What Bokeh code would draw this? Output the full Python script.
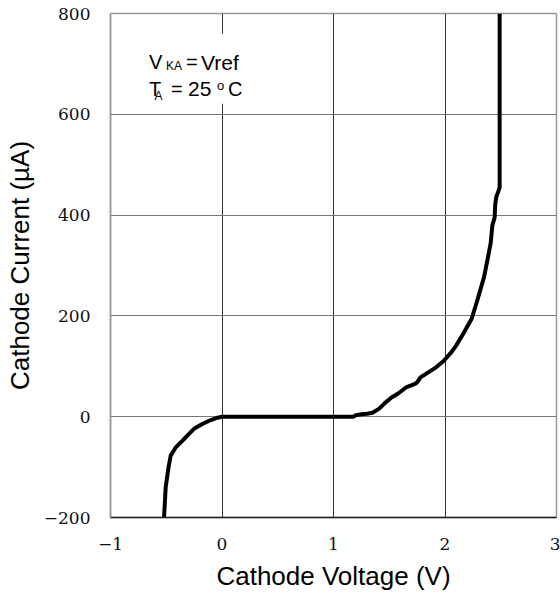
from bokeh.plotting import figure
from bokeh.models import Range1d, Label, BoxAnnotation, FixedTicker
from bokeh.embed import file_html
from bokeh.resources import INLINE

# Cathode voltage (V) and cathode current (uA)
voltage = [-0.52, -0.505, -0.48, -0.46, -0.415, -0.356, -0.296, -0.251, -0.177, -0.10, -0.04, 0.0,
           0.5, 1.0, 1.18, 1.20, 1.25, 1.30, 1.35, 1.41, 1.46, 1.52, 1.58, 1.65, 1.72, 1.75, 1.78,
           1.85, 1.92, 1.99, 2.05, 2.10, 2.17, 2.24, 2.29, 2.35, 2.38, 2.41, 2.425, 2.445, 2.45,
           2.46, 2.475, 2.49, 2.49]
current = [-200, -140, -101, -77, -61, -48, -34, -24, -14.5, -6.6, -2, 0,
           0, 0, 0, 3, 5, 6, 8, 16, 27, 38, 46, 58, 64, 68, 78,
           88, 98, 111, 126, 141, 167, 195, 231, 277, 310, 345, 380, 395, 420,
           436, 445, 455, 800]

x_ticks = [-1, 0, 1, 2, 3]
x_tick_labels = ["\u22121", "0", "1", "2", "3"]
y_ticks = [-200, 0, 200, 400, 600, 800]
y_tick_labels = ["\u2212200", "0", "200", "400", "600", "800"]

p = figure(width=560, height=598, output_backend="svg", toolbar_location=None,
           x_range=Range1d(-1, 3), y_range=Range1d(-200, 800),
           min_border_left=110, min_border_right=4, min_border_top=13, min_border_bottom=81)

p.background_fill_color = "white"
p.border_fill_color = "white"
p.outline_line_color = "#999999"
p.outline_line_width = 1.5

xt = FixedTicker(ticks=x_ticks)
yt = FixedTicker(ticks=y_ticks)
p.xaxis.ticker = xt
p.yaxis.ticker = yt
p.xgrid.ticker = xt
p.ygrid.ticker = yt
p.xaxis.major_label_overrides = dict(zip(x_ticks, x_tick_labels))
p.yaxis.major_label_overrides = dict(zip(y_ticks, y_tick_labels))

for ax in (p.xaxis, p.yaxis):
    ax.major_tick_in = 0
    ax.major_tick_out = 0
    ax.minor_tick_in = 0
    ax.minor_tick_out = 0
    ax.major_label_text_font = "DejaVu Serif"
    ax.major_label_text_font_size = "17px"
    ax.major_label_text_color = "#111111"
    ax.axis_label_text_font = "Liberation Sans"
    ax.axis_label_text_font_size = "26px"
    ax.axis_label_text_font_style = "normal"
    ax.axis_label_text_color = "black"

p.xaxis.axis_label = "Cathode Voltage (V)"
p.yaxis.axis_label = "Cathode Current (\u00b5A)"
p.xaxis.axis_line_color = "#222222"
p.xaxis.axis_line_width = 1.5
p.yaxis.axis_line_color = "#999999"
p.yaxis.axis_line_width = 1.5
p.xaxis.major_label_standoff = 20
p.xaxis.axis_label_standoff = 8
p.yaxis.major_label_standoff = 20
p.yaxis.axis_label_standoff = 6

p.xgrid.grid_line_color = "#333333"
p.xgrid.grid_line_width = 1
p.ygrid.grid_line_color = "#777777"
p.ygrid.grid_line_width = 1

p.line(voltage, current, line_color="black", line_width=4, line_join="round")

# white backing behind the condition note
p.add_layout(BoxAnnotation(left=-0.70, right=0.35, bottom=621, top=760,
                           fill_color="white", fill_alpha=1.0, line_alpha=0))

def lab(x, y, t, size):
    p.add_layout(Label(x=x, y=y, text=t, text_font="Liberation Sans",
                       text_font_size=size, text_baseline="alphabetic",
                       text_align="left", text_color="black"))

lab(-0.655, 703, "V", "20px")
lab(-0.502, 695, "KA", "12px")
lab(-0.323, 703, "=", "20px")
lab(-0.188, 703, "Vref", "21px")
lab(-0.655, 651, "T", "20px")
lab(-0.605, 637, "A", "12px")
lab(-0.457, 651, "=", "20px")
lab(-0.305, 651, "25", "21px")
lab(-0.045, 657, "o", "13px")
lab(0.054, 651, "C", "20px")

open("out.html", "w").write(file_html(p, INLINE))
